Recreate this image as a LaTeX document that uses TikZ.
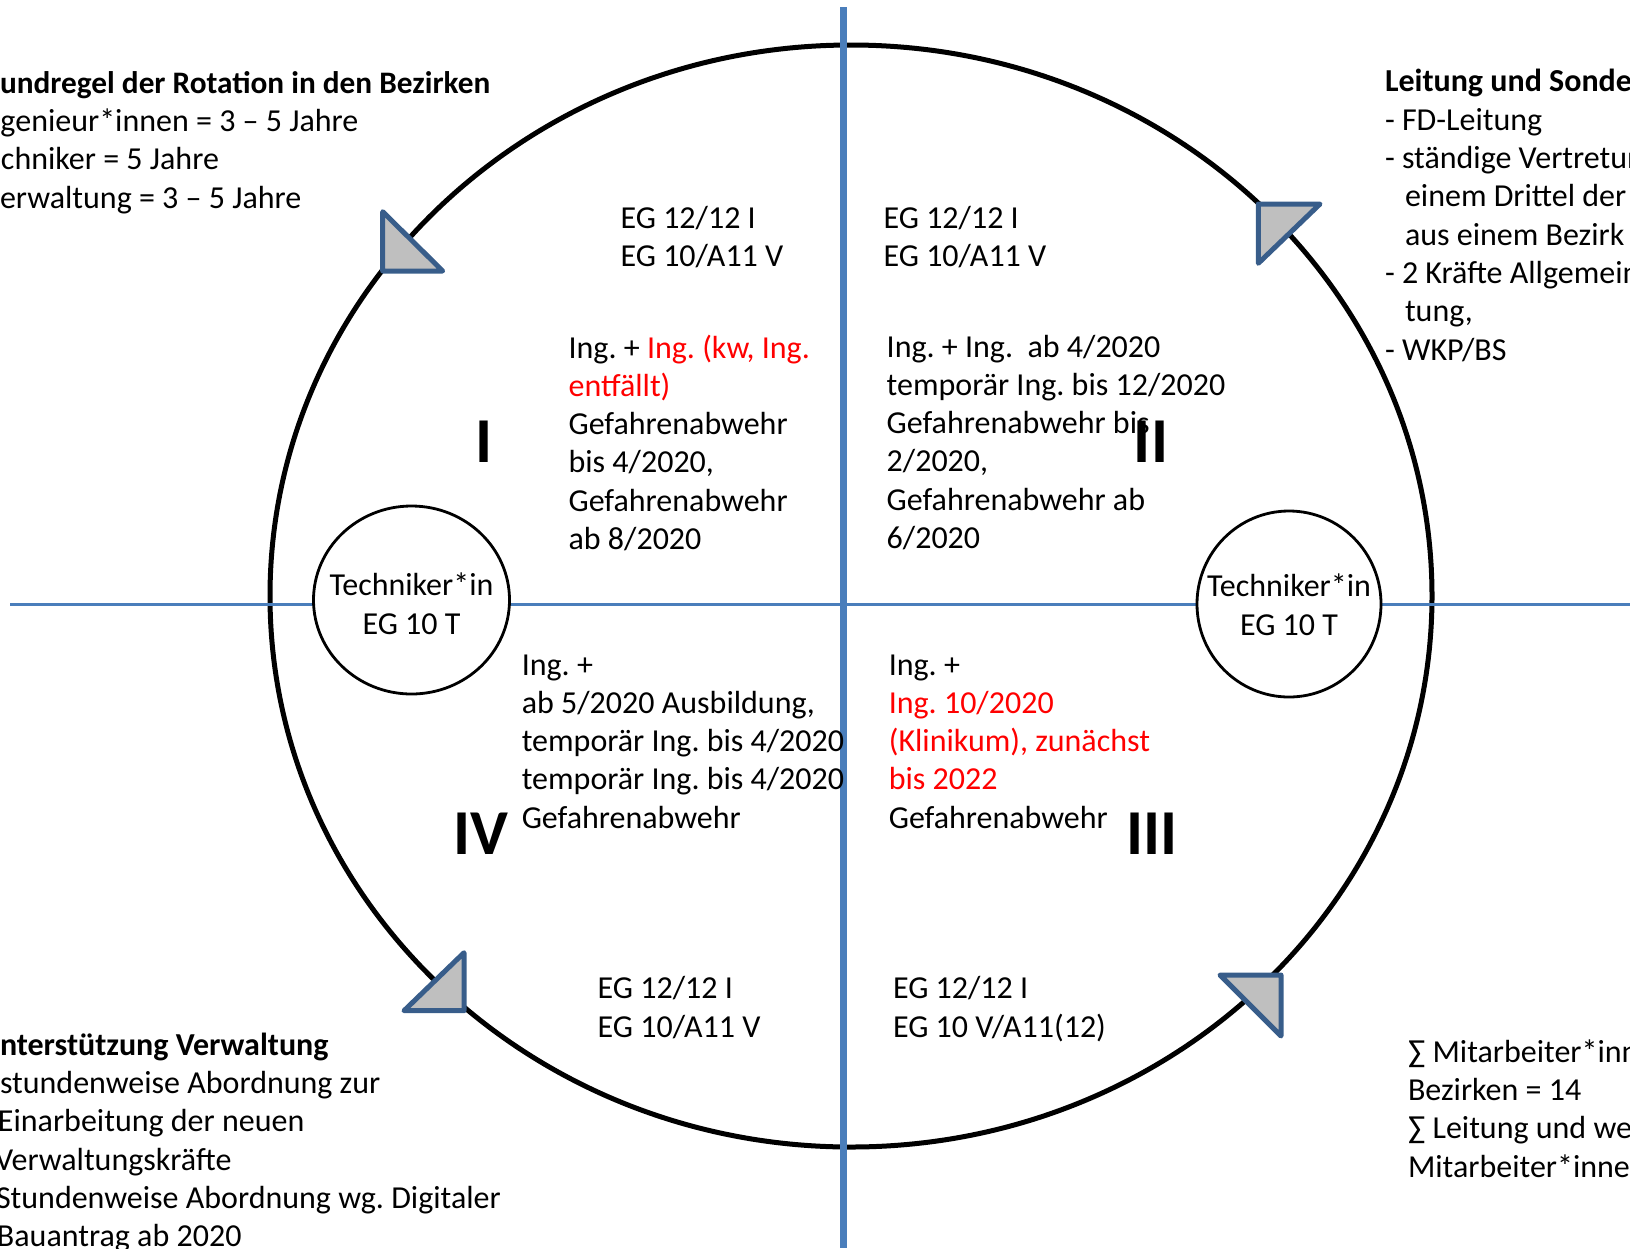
\documentclass[tikz,border=0pt]{standalone}
\usepackage{fontspec}
\setmainfont{Carlito}
\frenchspacing
\definecolor{axisblue}{HTML}{4A7EBB}
\definecolor{triblue}{HTML}{385D8A}
\definecolor{trigray}{HTML}{BFBFBF}
\definecolor{txtred}{HTML}{FF0000}
\begin{document}
\begin{tikzpicture}[x=1pt,y=-1pt,
  txt/.style={inner sep=0pt, outer sep=0pt, anchor=base west, align=left, font=\fontsize{32}{38.3}\selectfont\frenchspacing},
  ctr/.style={inner sep=0pt, outer sep=0pt, anchor=base, font=\fontsize{32}{38.3}\selectfont},
  roman/.style={inner sep=0pt, outer sep=0pt, anchor=base, font=\fontsize{64}{70}\selectfont\bfseries},
  tri/.style={draw=triblue, fill=trigray, line width=5pt, line join=round},
  axis/.style={draw=axisblue},
  small/.style={draw=black, fill=white, line width=2.8pt}]
\useasboundingbox (0,0) rectangle (1630,1248);
\clip (0,0) rectangle (1630,1248);
% big circle
\draw[line width=5pt] (851,596) ellipse [x radius=581, y radius=551];
% axes
\draw[axis, line width=3pt] (10,604) -- (1630,604);
\draw[axis, line width=7pt] (843,7) -- (843,1248);
% arrow triangles
\draw[tri] (382.7,211.7) -- (382.7,271) -- (442.7,271) -- cycle;
\draw[tri] (1258.3,204) -- (1320,204) -- (1258.3,263.3) -- cycle;
\draw[tri] (464,952.7) -- (464,1010.7) -- (404,1010.7) -- cycle;
\draw[tri] (1220,975) -- (1281,975) -- (1281,1036) -- cycle;
% small circles
\draw[small] (411.5,600) ellipse [x radius=98, y radius=94];
\draw[small] (1289,604) ellipse [x radius=92, y radius=93];
\node[ctr] (tl1) at (411.5,595.5) {Techniker*in};
\node[ctr] (tl2) at (411.5,634) {EG 10 T};
\node[ctr] (tr1) at (1289,596.5) {Techniker*in};
\node[ctr] (tr2) at (1289,635) {EG 10 T};
% roman numerals
\node[roman] (r1) at (484,462.5) {I};
\node[roman] (r2) at (1151,462.5) {II};
\node[roman] (r3) at (1152,854) {III};
\node[roman] (r4) at (481,854) {IV};
% (multi-line nodes are placed by the baseline of their last line)
% quadrant I
\node[txt] (q1a) at (620.6,266.8) {EG 12/12 I\\EG 10/A11 V};
\node[txt] (q1b) at (568.6,549.5) {Ing. + \textcolor{txtred}{Ing. (kw, Ing.}\\\textcolor{txtred}{entfällt)}\\Gefahrenabwehr\\bis 4/2020,\\Gefahrenabwehr\\ab 8/2020};
% quadrant II
\node[txt] (q2a) at (883.6,266.8) {EG 12/12 I\\EG 10/A11 V};
\node[txt] (q2b) at (886.7,548.5) {Ing. + Ing.\ \ ab 4/2020\\temporär Ing. bis 12/2020\\Gefahrenabwehr bis\\2/2020,\\Gefahrenabwehr ab\\6/2020};
% quadrant IV
\node[txt] (q4b) at (521.8,828.2) {Ing. +\\ab 5/2020 Ausbildung,\\temporär Ing. bis 4/2020\\temporär Ing. bis 4/2020\\Gefahrenabwehr};
\node[txt] (q4a) at (597.7,1037) {EG 12/12 I\\EG 10/A11 V};
% quadrant III
\node[txt] (q3b) at (888.8,828.2) {Ing. +\\\textcolor{txtred}{Ing. 10/2020}\\\textcolor{txtred}{(Klinikum), zunächst}\\\textcolor{txtred}{bis 2022}\\Gefahrenabwehr};
\node[txt] (q3a) at (893,1037) {EG 12/12 I\\EG 10 V/A11(12)};
% top-left block
\node[txt, font=\fontsize{31.3}{38.3}\selectfont\bfseries] (tla) at (0,93) {undregel der Rotation in den Bezirken};
\node[txt] (tlb) at (0.5,131.3) {genieur*innen = 3 – 5 Jahre};
\node[txt] (tlc) at (1,169.6) {chniker = 5 Jahre};
\node[txt] (tld) at (0,208) {erwaltung = 3 – 5 Jahre};
% top-right block
\node[txt] (tra) at (1385,360) {\textbf{Leitung und Sonderaufgaben}\\- FD-Leitung\\- ständige Vertretung\\\hspace*{20pt}einem Drittel der\\\hspace*{20pt}aus einem Bezirk\\- 2 Kräfte Allgemeine Verwal-\\\hspace*{20pt}tung,\\- WKP/BS};
% bottom-left block
\node[txt] (bla) at (0,1055) {\textbf{nterstützung Verwaltung}};
\node[txt] (blb) at (0,1093.3) {stundenweise Abordnung zur};
\node[txt] (blc) at (-2,1131.6) {Einarbeitung der neuen};
\node[txt] (bld) at (-5,1170) {Verwaltungskräfte};
\node[txt] (ble) at (-4,1208.2) {Stundenweise Abordnung wg. Digitaler};
\node[txt] (blf) at (-3,1246.5) {Bauantrag ab 2020};
% bottom-right block
\node[txt] (bra) at (1408,1177) {∑ Mitarbeiter*innen in den\\Bezirken = 14\\∑ Leitung und weitere\\Mitarbeiter*innen};
\end{tikzpicture}
\end{document}
